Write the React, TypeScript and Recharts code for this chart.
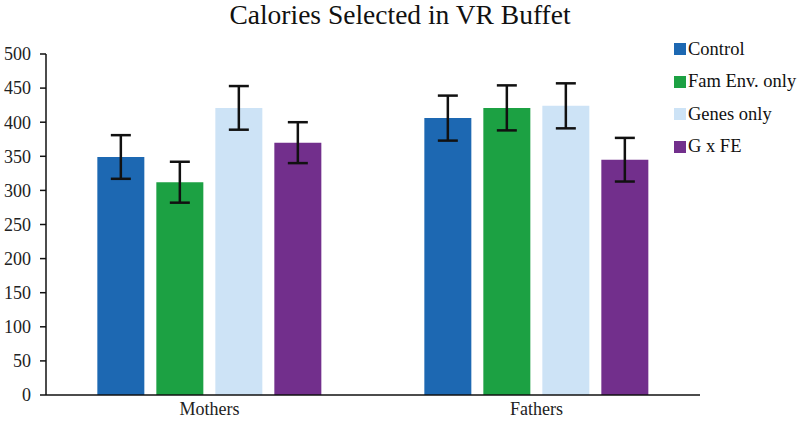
import { Bar, BarChart, ErrorBar, XAxis, YAxis } from "recharts";

const groups = ["Mothers", "Fathers"];
const control = [349, 406];
const controlErr = [32, 33];
const famEnv = [312, 421];
const famEnvErr = [30, 33];
const genes = [421, 424];
const genesErr = [32, 33];
const gxfe = [370, 345];
const gxfeErr = [30, 32];
const yTicks = [0, 50, 100, 150, 200, 250, 300, 350, 400, 450, 500];

const SERIES = [
  { key: "control", label: "Control", color: "#1d68b2" },
  { key: "famEnv", label: "Fam Env. only", color: "#1ca143" },
  { key: "genes", label: "Genes only", color: "#cde3f6" },
  { key: "gxfe", label: "G x FE", color: "#722f8c" },
];

const data = groups.map((name, i) => ({
  name,
  control: control[i],
  controlErr: controlErr[i],
  famEnv: famEnv[i],
  famEnvErr: famEnvErr[i],
  genes: genes[i],
  genesErr: genesErr[i],
  gxfe: gxfe[i],
  gxfeErr: gxfeErr[i],
}));

const FONT = '"Liberation Serif", "Times New Roman", serif';
const TICK = { fontSize: 18, fill: "#222", fontFamily: FONT } as const;

function LegendBox() {
  return (
    <div
      style={{
        position: "absolute",
        left: 674,
        top: 33,
        fontFamily: FONT,
        fontSize: 18.5,
        color: "#111",
      }}
    >
      {SERIES.map((s) => (
        <div key={s.key} style={{ display: "flex", alignItems: "center", height: 32.5 }}>
          <span style={{ width: 12, height: 12, background: s.color, marginRight: 2 }} />
          <span>{s.label}</span>
        </div>
      ))}
    </div>
  );
}

export default function App() {
  return (
    <div style={{ position: "absolute", left: 0, top: 0, width: 800, height: 427, background: "#fff" }}>
      <div
        style={{
          position: "absolute",
          top: 0,
          left: 0,
          width: 800,
          textAlign: "center",
          fontFamily: FONT,
          fontSize: 27.5,
          lineHeight: "30px",
          color: "#111",
        }}
      >
        Calories Selected in VR Buffet
      </div>
      <BarChart
        width={800}
        height={427}
        data={data}
        margin={{ top: 54, right: 100, bottom: 0, left: 0 }}
        barCategoryGap="15.7%"
        barGap={12}
        style={{ fontFamily: FONT }}
      >
        <XAxis
          dataKey="name"
          tick={TICK}
          tickLine={false}
          tickSize={0}
          tickMargin={7}
          axisLine={{ stroke: "#111", strokeWidth: 1.5 }}
          height={32}
        />
        <YAxis
          domain={[0, 500]}
          ticks={yTicks}
          tick={TICK}
          width={46}
          tickSize={6}
          tickMargin={9}
          tickLine={{ stroke: "#111", strokeWidth: 1.5 }}
          axisLine={{ stroke: "#111", strokeWidth: 1.5 }}
          interval={0}
        />
        {SERIES.map((s) => (
          <Bar key={s.key} dataKey={s.key} name={s.label} fill={s.color} isAnimationActive={false}>
            <ErrorBar dataKey={`${s.key}Err`} width={10} stroke="#111" strokeWidth={2.5} />
          </Bar>
        ))}
      </BarChart>
      <LegendBox />
    </div>
  );
}
